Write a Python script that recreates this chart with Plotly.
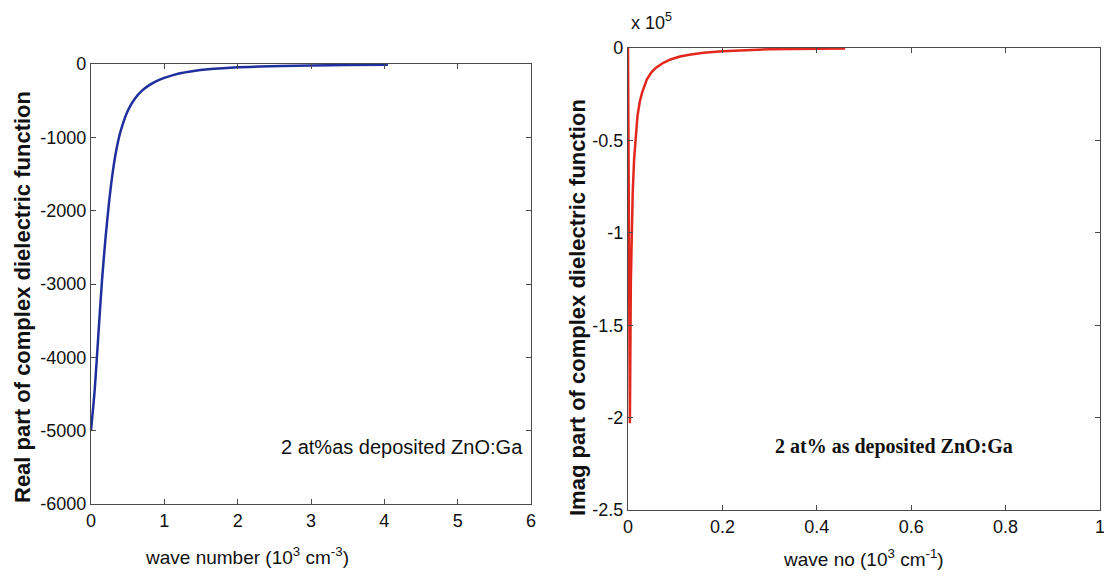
import plotly.graph_objects as go

# Real part of the dielectric function (wave number in 10^3 cm^-1)
real_wave = [0, 0.05, 0.1, 0.15, 0.2, 0.25, 0.3, 0.35, 0.4, 0.5, 0.6, 0.7, 0.8, 0.9,
             1.0, 1.2, 1.4, 1.6, 1.8, 2.0, 2.3, 2.6, 3.0, 3.5, 4.05]
real_eps = [-5000, -4450, -3700, -2950, -2350, -1850, -1450, -1150, -930, -640, -470,
            -360, -285, -230, -190, -130, -95, -72, -57, -46, -35, -27, -20, -14, -10]

# Imaginary part of the dielectric function (in units of 10^5)
imag_wave = [0, 0.004, 0.006, 0.008, 0.010, 0.013, 0.016, 0.020, 0.025, 0.030, 0.040,
             0.050, 0.060, 0.075, 0.09, 0.11, 0.13, 0.16, 0.2, 0.25, 0.3, 0.35, 0.4, 0.46]
imag_eps = [0, -2.03, -1.27, -0.95, -0.78, -0.6, -0.48, -0.37, -0.29, -0.24, -0.17,
            -0.13, -0.105, -0.08, -0.062, -0.046, -0.036, -0.026, -0.017, -0.011,
            -0.007, -0.005, -0.004, -0.003]

real_xticks = [0, 1, 2, 3, 4, 5, 6]
real_yticks = [0, -1000, -2000, -3000, -4000, -5000, -6000]
real_ytext = ["0", "-1000", "-2000", "-3000", "-4000", "-5000", "-6000"]
imag_xticks = [0, 0.2, 0.4, 0.6, 0.8, 1]
imag_xtext = ["0", "0.2", "0.4", "0.6", "0.8", "1"]
imag_yticks = [0, -0.5, -1, -1.5, -2, -2.5]
imag_ytext = ["0", "-0.5", "-1", "-1.5", "-2", "-2.5"]

FONT = "Liberation Sans, Arial, sans-serif"
SERIF = "Liberation Serif, serif"
AXIS_COLOR = "#4a4a4a"
TEXT_COLOR = "#111111"

W, H = 1104, 579


def px_x(a, b):
    return [a / W, b / W]


def px_y(top, bottom):
    return [(H - bottom) / H, (H - top) / H]


def label(text, cx, cy, size, family=FONT, angle=0, anchor="center"):
    """Text placed by its pixel centre (or left edge) on the page."""
    return dict(text=text, xref="paper", yref="paper", x=cx / W, y=(H - cy) / H,
                xanchor=anchor, yanchor="middle", textangle=angle, showarrow=False,
                font=dict(family=family, size=size, color=TEXT_COLOR))


fig = go.Figure()
fig.add_trace(go.Scatter(x=real_wave, y=real_eps, mode="lines",
                         line=dict(color="#1f2f9c", width=2.5, shape="spline", smoothing=0.6),
                         xaxis="x", yaxis="y", showlegend=False))
fig.add_trace(go.Scatter(x=imag_wave, y=imag_eps, mode="lines",
                         line=dict(color="#e2281c", width=2.5),
                         xaxis="x2", yaxis="y2", showlegend=False))

axis_common = dict(showline=True, linecolor=AXIS_COLOR, linewidth=1.3, mirror="ticks",
                   ticks="inside", ticklen=5, tickcolor=AXIS_COLOR, showgrid=False,
                   zeroline=False, automargin=False, ticklabeloverflow="allow",
                   tickfont=dict(family=FONT, size=18, color=TEXT_COLOR))

fig.update_layout(
    width=W, height=H,
    margin=dict(l=0, r=0, t=0, b=0),
    paper_bgcolor="white", plot_bgcolor="white",
    xaxis=dict(domain=px_x(91, 531), range=[0, 6], tickvals=real_xticks, anchor="y",
               **axis_common),
    yaxis=dict(domain=px_y(64, 504), range=[-6000, 0], tickvals=real_yticks,
               ticktext=real_ytext, anchor="x", **axis_common),
    xaxis2=dict(domain=px_x(628, 1100), range=[0, 1], tickvals=imag_xticks,
                ticktext=imag_xtext, anchor="y2", **axis_common),
    yaxis2=dict(domain=px_y(48, 510), range=[-2.5, 0], tickvals=imag_yticks,
                ticktext=imag_ytext, anchor="x2", **axis_common),
    annotations=[
        # axis titles
        label("wave number (10<sup>3</sup> cm<sup>-3</sup>)", 247, 556, 19),
        label("wave no (10<sup>3</sup> cm<sup>-1</sup>)", 863, 558, 19),
        label("<b>Real part of complex dielectric function</b>", 22, 297, 22, angle=-90),
        label("<b>Imag part of complex dielectric function</b>", 577, 308, 22, angle=-90),
        # sample labels
        label("2 at%as deposited ZnO:Ga", 402, 447, 20),
        label("<b>2 at% as deposited ZnO:Ga</b>", 894, 446, 20, family=SERIF),
        # exponent of the imaginary axis
        label("x 10<sup>5</sup>", 629, 22, 18, anchor="left"),
    ],
)

fig.write_html("out.html")
